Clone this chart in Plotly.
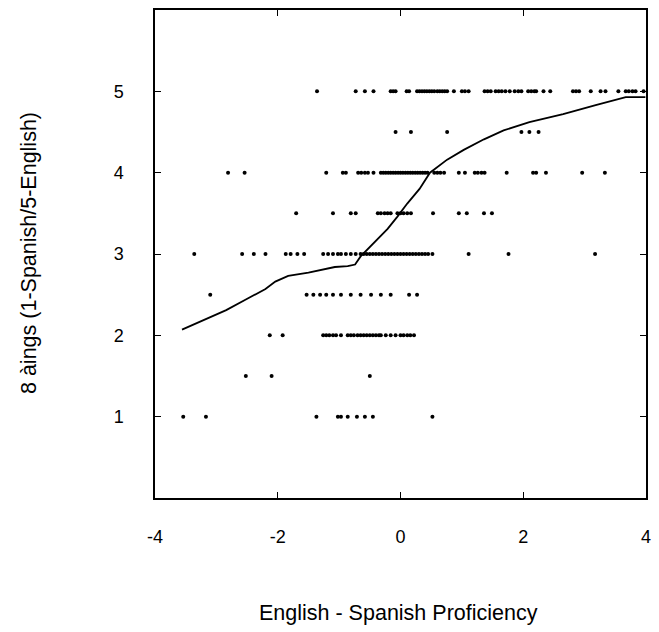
import plotly.graph_objects as go

# Proficiency difference scores observed at each rating level
ratings = [5, 4.5, 4, 3.5, 3, 2.5, 2, 1.5, 1]

prof_at_5 = [-1.36, -0.73, -0.58, -0.44, -0.16, -0.12, -0.08, 0.10, 0.14, 0.27, 0.31,
             0.35, 0.39, 0.43, 0.47, 0.51, 0.55, 0.60, 0.64, 0.68, 0.72, 0.76, 0.87,
             1.00, 1.05, 1.11, 1.37, 1.42, 1.47, 1.55, 1.60, 1.65, 1.71, 1.78, 1.86,
             1.92, 1.97, 2.08, 2.13, 2.18, 2.21, 2.33, 2.44, 2.81, 2.86, 2.91, 3.10,
             3.26, 3.34, 3.55, 3.67, 3.72, 3.78, 3.83, 3.96]
prof_at_4_5 = [-0.08, 0.17, 0.76, 1.97, 2.10, 2.25]
prof_at_4 = [-2.81, -2.54, -1.21, -0.94, -0.89, -0.69, -0.64, -0.58, -0.53, -0.44,
             -0.32, -0.28, -0.24, -0.20, -0.16, -0.12, -0.08, -0.04, 0.00, 0.04, 0.08,
             0.12, 0.16, 0.20, 0.24, 0.28, 0.32, 0.36, 0.40, 0.44, 0.55, 0.60, 0.65,
             0.71, 0.95, 1.05, 1.21, 1.26, 1.32, 1.37, 1.73, 2.16, 2.21, 2.37, 2.96, 3.33]
prof_at_3_5 = [-1.70, -1.10, -0.81, -0.73, -0.37, -0.32, -0.26, -0.21, -0.16, -0.05,
               0.00, 0.05, 0.11, 0.17, 0.53, 0.95, 1.08, 1.36, 1.49]
prof_at_3 = [-3.36, -2.58, -2.39, -2.20, -1.87, -1.79, -1.68, -1.57, -1.26, -1.18,
             -1.10, -1.02, -0.97, -0.89, -0.81, -0.73, -0.65, -0.60, -0.55, -0.50,
             -0.45, -0.40, -0.35, -0.30, -0.25, -0.20, -0.15, -0.10, -0.05, 0.00, 0.05,
             0.10, 0.15, 0.20, 0.25, 0.30, 0.35, 0.40, 0.45, 0.52, 1.11, 1.76, 3.17]
prof_at_2_5 = [-3.10, -1.53, -1.42, -1.31, -1.21, -1.10, -0.97, -0.81, -0.65, -0.48,
               -0.32, -0.16, 0.14, 0.27]
prof_at_2 = [-2.13, -1.92, -1.26, -1.21, -1.16, -1.10, -1.05, -0.97, -0.86, -0.81,
             -0.76, -0.70, -0.65, -0.60, -0.55, -0.50, -0.45, -0.40, -0.35, -0.32,
             -0.24, -0.16, -0.08, 0.00, 0.05, 0.11, 0.16, 0.22]
prof_at_1_5 = [-2.52, -2.10, -0.50]
prof_at_1 = [-3.54, -3.17, -1.37, -1.02, -0.97, -0.86, -0.71, -0.58, -0.45, 0.52]

prof_by_rating = [prof_at_5, prof_at_4_5, prof_at_4, prof_at_3_5, prof_at_3,
                  prof_at_2_5, prof_at_2, prof_at_1_5, prof_at_1]

# Smoothed trend of rating against proficiency
smooth_x = [-3.56, -3.19, -2.84, -2.52, -2.20, -2.04, -1.83, -1.50, -1.07, -0.86,
            -0.74, -0.65, -0.42, -0.21, -0.05, 0.11, 0.31, 0.48, 0.76, 1.03, 1.36,
            1.68, 2.10, 2.65, 3.18, 3.67, 3.99]
smooth_y = [2.07, 2.19, 2.31, 2.44, 2.57, 2.66, 2.73, 2.77, 2.84, 2.85, 2.87, 2.97,
            3.15, 3.31, 3.46, 3.62, 3.80, 4.00, 4.16, 4.28, 4.41, 4.52, 4.62, 4.72,
            4.83, 4.93, 4.93]

x_ticks = [-4, -2, 0, 2, 4]
y_ticks = [1, 2, 3, 4, 5]

pts_x, pts_y = [], []
for r, xs in zip(ratings, prof_by_rating):
    pts_x.extend(xs)
    pts_y.extend([r] * len(xs))

FONT = "Liberation Sans, Arial, Helvetica, sans-serif"

fig = go.Figure()
fig.add_trace(go.Scatter(
    x=pts_x, y=pts_y, mode="markers",
    marker=dict(color="black", size=4, line=dict(width=0)),
    hoverinfo="x+y", showlegend=False,
))
fig.add_trace(go.Scatter(
    x=smooth_x, y=smooth_y, mode="lines",
    line=dict(color="black", width=1.8),
    showlegend=False,
))

axis_common = dict(
    showgrid=False, zeroline=False,
    showline=True, linecolor="black", linewidth=1.5, mirror="ticks",
    ticks="inside", ticklen=6, tickwidth=1.3, tickcolor="black",
    tickfont=dict(family=FONT, size=18, color="black"),
)

fig.update_xaxes(range=[-4, 4], tickvals=x_ticks, ticktext=[str(v) for v in x_ticks],
                 ticklabelstandoff=22, **axis_common)
fig.update_yaxes(range=[0, 6], tickvals=y_ticks, ticktext=[str(v) for v in y_ticks],
                 ticklabelstandoff=26, **axis_common)

fig.update_layout(
    width=659, height=632,
    margin=dict(l=155, r=9, t=8, b=134),
    plot_bgcolor="white", paper_bgcolor="white",
    font=dict(family=FONT, color="black"),
    annotations=[
        dict(text="English - Spanish Proficiency", xref="paper", yref="paper",
             x=0.495, y=-0.2347, showarrow=False, xanchor="center", yanchor="middle",
             font=dict(family=FONT, size=21.5, color="black")),
        dict(text="8 àings (1-Spanish/5-English)", xref="paper", yref="paper",
             x=-0.2566, y=0.502, showarrow=False, textangle=-90,
             xanchor="center", yanchor="middle",
             font=dict(family=FONT, size=21.5, color="black")),
    ],
)

fig.write_html("out.html")
